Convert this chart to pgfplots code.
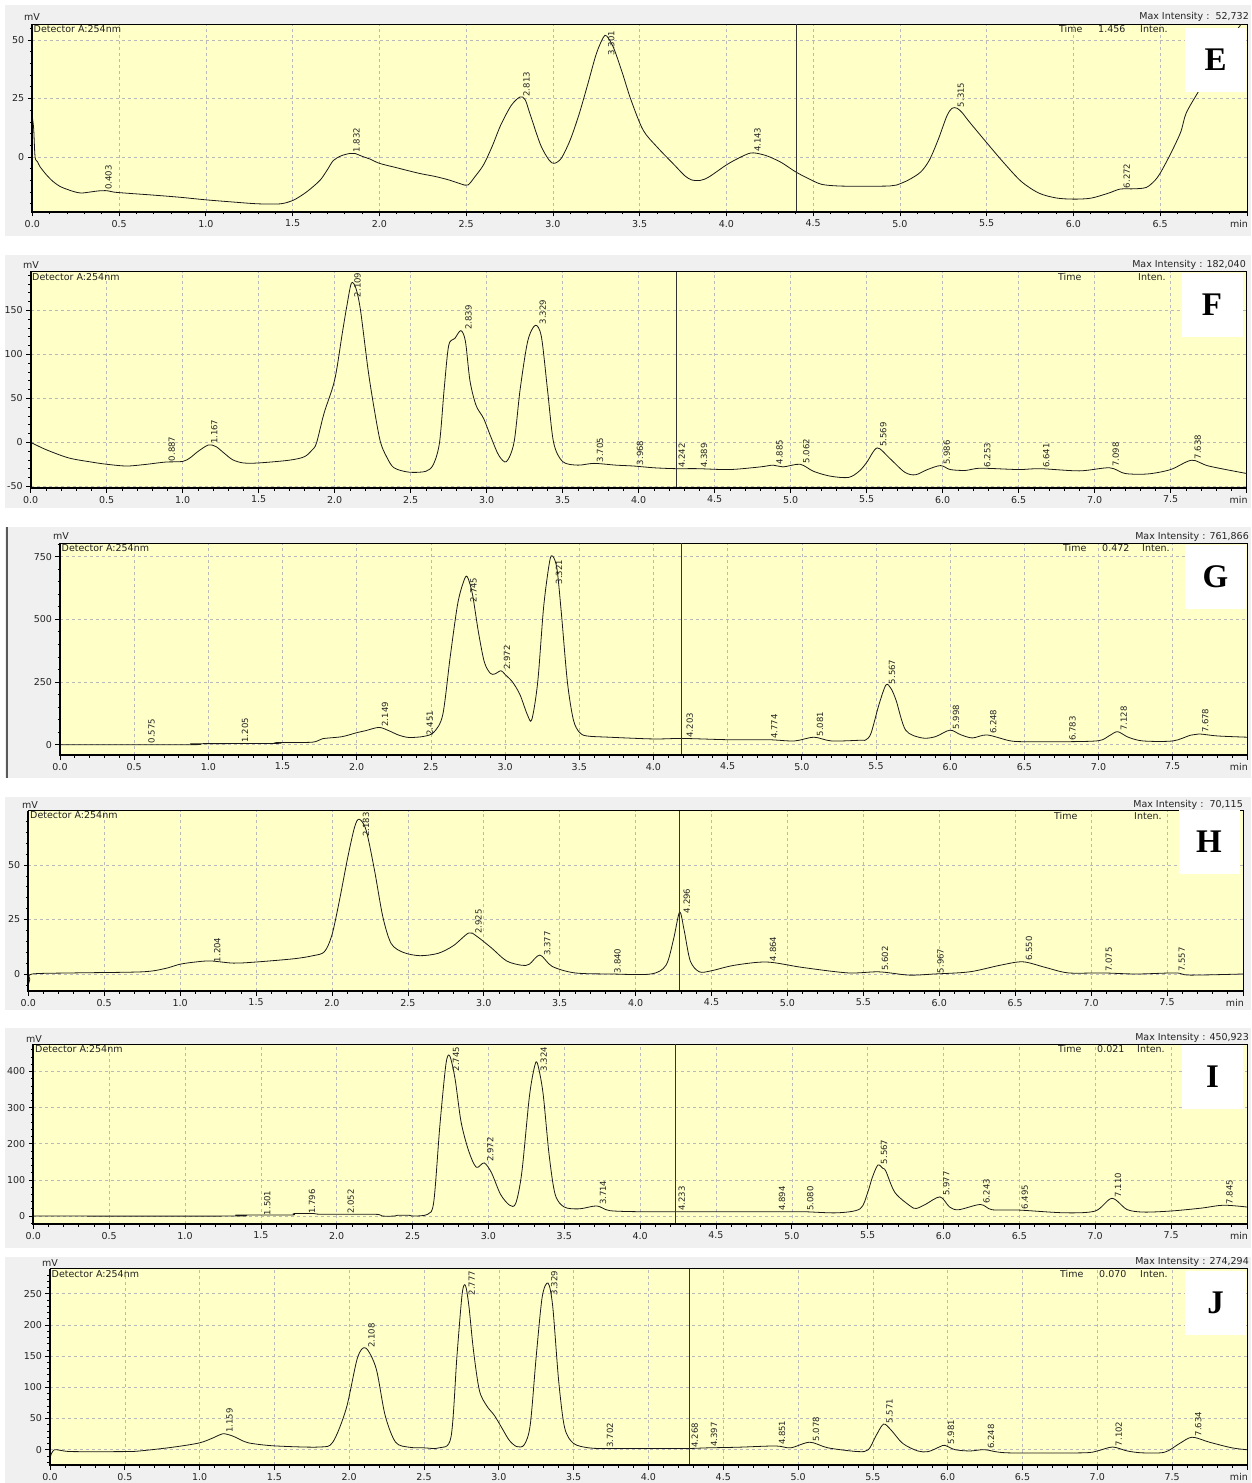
\documentclass[border=0pt]{standalone}
\usepackage{fontspec}
\setmainfont{DejaVu Sans}
\newfontfamily\letterfont{Liberation Serif}
\usepackage{pgfplots}
\pgfplotsset{compat=1.18}

\definecolor{bgg}{RGB}{240,240,240}
\definecolor{plotbg}{RGB}{255,255,200}
\definecolor{gridc}{RGB}{185,185,185}
\definecolor{txt}{RGB}{35,35,35}

\newcommand\tfont{\fontsize{9.5}{11}\selectfont}
\newcommand\pfont{\fontsize{8.5}{10}\selectfont}
\newcommand\minlab{\makebox[0pt][r]{min\kern-1pt}}

\pgfplotsset{
 chrom/.style={
  scale only axis, anchor=north west,
  axis background/.style={fill=plotbg},
  grid=major,
  major grid style={draw=gridc, line width=0.6pt, dash pattern=on 3pt off 3pt},
  tick pos=left, tick align=outside,
  major tick length=4.5pt, minor tick length=2.5pt,
  every tick/.style={black, line width=0.7pt},
  axis line style={black, line width=0.8pt},
  ticklabel style={font=\tfont, text=txt},
  xmin=0,
  minor x tick num=4,
  /pgf/number format/assume math mode=true,
 },
 eight/.style={xmax=8, xtick={0,0.5,...,8},
  xticklabels={0.0,0.5,1.0,1.5,2.0,2.5,3.0,3.5,4.0,4.5,5.0,5.5,6.0,6.5,7.0,7.5,\minlab}},
 cur/.style={line width=0.8pt, black!90, smooth, tension=0.5, mark=none},
 cursor/.style={line width=0.6pt, black!80, mark=none},
}
\tikzset{pk/.style={xshift=2pt, rotate=90, anchor=north west, inner sep=0.8pt, font=\pfont, text=txt}}

\newcommand\T[4]{\node[anchor=#1,font=\tfont,text=txt,inner sep=0pt] at (#2pt,-#3pt) {#4};}
\newcommand\B[3]{\node[fill=white,minimum width=61pt,minimum height=64pt,inner sep=0pt,font=\fontsize{33}{36}\selectfont\letterfont\bfseries] at (#1pt,-#2pt) {#3};}
\newcommand\TA[1]{\draw[black,line width=1.7pt] (#1.north west) -- (#1.south west) -- (#1.south east);}

\begin{document}
\begin{tikzpicture}
\useasboundingbox (0,0) rectangle (1251pt,-1483pt);
\fill[white] (0,0) rectangle (1251pt,-1483pt);
\fill[bgg] (5pt,-5pt) rectangle (1251pt,-236pt);
\fill[bgg] (5pt,-255pt) rectangle (1251pt,-508pt);
\fill[bgg] (5pt,-527pt) rectangle (1251pt,-778pt);
\draw[black!65, line width=1.5pt] (7pt,-527pt) -- (7pt,-778pt);
\fill[bgg] (5pt,-797pt) rectangle (1251pt,-1010pt);
\fill[bgg] (5pt,-1028pt) rectangle (1251pt,-1248pt);
\fill[bgg] (5pt,-1257pt) rectangle (1251pt,-1483pt);

% ---------------- E
\begin{axis}[chrom, name=E, at={(32.3pt,-24pt)}, width=1214.7pt, height=188pt,
  xmax=7, ymin=-23.5, ymax=56.8,
  xtick={0,0.5,...,7}, xticklabels={0.0,0.5,1.0,1.5,2.0,2.5,3.0,3.5,4.0,4.5,5.0,5.5,6.0,6.5,\minlab},
  ytick={0,25,50}, yticklabels={0,25,50}, minor ytick={-20,-15,...,55}]
\addplot[cur] coordinates {(0,17) (0.008,12) (0.016,0) (0.03,-2) (0.044,-4.1) (0.08,-7.5) (0.12,-10.5) (0.16,-12.6) (0.2,-13.8) (0.24,-14.8) (0.28,-15.4) (0.33,-15) (0.38,-14.5) (0.43,-14.4) (0.47,-15) (0.55,-15.5) (0.7,-16.3) (0.85,-17.2) (1.0,-18.3) (1.15,-19.2) (1.3,-20) (1.43,-20) (1.5,-18.6) (1.55,-16.5) (1.6,-13.8) (1.66,-9.8) (1.7,-5.5) (1.735,-1.5) (1.78,0.5) (1.83,1.5) (1.86,1.5) (1.9,0.3) (1.95,-1) (2.0,-2.7) (2.1,-4.6) (2.23,-7) (2.32,-8.3) (2.4,-9.8) (2.47,-11.5) (2.51,-12) (2.55,-8.5) (2.6,-3.4) (2.65,4.5) (2.7,13.7) (2.76,22) (2.81,25.6) (2.84,24.5) (2.87,18) (2.93,5) (2.98,-1.5) (3.01,-2.7) (3.05,-0.4) (3.1,7.3) (3.15,18) (3.2,30.8) (3.25,44) (3.29,51) (3.31,51.7) (3.35,46.6) (3.4,36) (3.45,24.4) (3.52,11.5) (3.6,4.3) (3.7,-3.4) (3.76,-8) (3.8,-9.8) (3.85,-10) (3.9,-8.5) (4.0,-3.4) (4.07,-0.5) (4.14,1.7) (4.2,1.2) (4.25,0) (4.32,-2.5) (4.4,-6.4) (4.48,-9.5) (4.55,-11.7) (4.65,-12.4) (4.8,-12.5) (4.94,-12.4) (4.98,-12) (5.05,-9.8) (5.12,-6.4) (5.17,-1.3) (5.22,7.3) (5.27,17.4) (5.3,20.8) (5.33,20.8) (5.36,18.8) (5.4,15) (5.5,6.1) (5.6,-2.6) (5.7,-10.5) (5.8,-15.4) (5.9,-17.5) (6.0,-18) (6.1,-17.6) (6.2,-15.5) (6.27,-13.7) (6.35,-13.6) (6.42,-13) (6.47,-10) (6.5,-6.9) (6.54,-1.5) (6.58,4.4) (6.62,11) (6.65,18.8) (6.72,27.9) (6.8,38) (6.9,50) (7.0,60)};
\addplot[cursor] coordinates {(4.40,-23.5) (4.40,56.8)};
\node[pk] at (axis cs:0.403,-14.4) {0.403};
\node[pk] at (axis cs:1.832,1.6) {1.832};
\node[pk] at (axis cs:2.813,25.4) {2.813};
\node[pk] at (axis cs:3.301,43) {3.301};
\node[pk] at (axis cs:4.143,1.7) {4.143};
\node[pk] at (axis cs:5.315,20.9) {5.315};
\node[pk] at (axis cs:6.272,-13.7) {6.272};
\end{axis}
\TA{E}

% ---------------- F
\begin{axis}[chrom, eight, name=F, at={(30.7pt,-271.7pt)}, width=1216pt, height=216.3pt,
  ymin=-52, ymax=194,
  ytick={-50,0,50,100,150}, yticklabels={-50,0,50,100,150}, minor ytick={-50,-40,...,190}]
\addplot[cur] coordinates {(0,0) (0.1,-8.3) (0.25,-17.8) (0.4,-22.5) (0.5,-25) (0.63,-27) (0.75,-25.3) (0.887,-22.5) (1.0,-21.8) (1.05,-17.5) (1.1,-10.5) (1.17,-3) (1.22,-5) (1.27,-12) (1.33,-20) (1.4,-23.5) (1.5,-23.5) (1.7,-20.4) (1.8,-16.5) (1.85,-9) (1.88,-1) (1.93,33) (2.0,71) (2.05,124) (2.08,155) (2.11,181) (2.14,175) (2.17,150) (2.22,82) (2.26,38) (2.3,1) (2.34,-16) (2.39,-29) (2.49,-34) (2.6,-33) (2.65,-25) (2.69,0) (2.72,60) (2.75,110) (2.79,118) (2.83,127) (2.86,115) (2.89,70) (2.93,42) (2.98,27) (3.03,5) (3.08,-15) (3.13,-22) (3.18,0) (3.22,60) (3.27,115) (3.32,133) (3.36,120) (3.4,60) (3.44,0) (3.5,-22) (3.6,-26) (3.705,-24) (3.85,-26) (3.968,-27) (4.1,-29) (4.242,-30) (4.389,-30) (4.6,-31) (4.8,-28) (4.885,-26) (4.95,-28) (5.062,-25) (5.15,-33) (5.26,-38.5) (5.38,-40) (5.45,-33) (5.5,-23) (5.569,-6.4) (5.65,-18) (5.75,-34) (5.82,-37) (5.9,-31) (5.986,-26.5) (6.05,-31) (6.15,-32) (6.25,-29.5) (6.5,-31) (6.641,-30) (6.9,-32.5) (7.098,-29) (7.2,-35.5) (7.35,-36) (7.5,-31) (7.638,-20.4) (7.75,-27) (8.0,-35.5)};
\addplot[cursor] coordinates {(4.245,-52) (4.245,194)};
\node[pk] at (axis cs:0.887,-22.5) {0.887};
\node[pk] at (axis cs:1.167,-3) {1.167};
\node[pk] at (axis cs:2.109,164) {2.109};
\node[pk] at (axis cs:2.839,127) {2.839};
\node[pk] at (axis cs:3.329,133) {3.329};
\node[pk] at (axis cs:3.705,-24) {3.705};
\node[pk] at (axis cs:3.968,-27) {3.968};
\node[pk] at (axis cs:4.242,-30) {4.242};
\node[pk] at (axis cs:4.389,-30) {4.389};
\node[pk] at (axis cs:4.885,-26) {4.885};
\node[pk] at (axis cs:5.062,-25) {5.062};
\node[pk] at (axis cs:5.569,-6.4) {5.569};
\node[pk] at (axis cs:5.986,-26.5) {5.986};
\node[pk] at (axis cs:6.253,-29.5) {6.253};
\node[pk] at (axis cs:6.641,-30) {6.641};
\node[pk] at (axis cs:7.098,-29) {7.098};
\node[pk] at (axis cs:7.638,-20.4) {7.638};
\end{axis}
\TA{F}

% ---------------- G
\begin{axis}[chrom, eight, name=G, at={(60pt,-543.3pt)}, width=1187pt, height=211.7pt,
  ymin=-41, ymax=803,
  ytick={0,250,500,750}, yticklabels={0,250,500,750}, minor ytick={0,50,...,800}]
\addplot[cur] coordinates {(0,0) (0.89,0) (0.9,4) (1.45,5) (1.46,9) (1.7,10) (1.77,24) (1.9,32) (2.0,48) (2.06,56) (2.15,69) (2.22,55) (2.28,39) (2.35,29) (2.45,33) (2.52,50) (2.58,120) (2.63,350) (2.68,560) (2.72,650) (2.745,670) (2.78,600) (2.82,450) (2.86,330) (2.9,285) (2.93,282) (2.972,295) (3.0,280) (3.05,250) (3.1,200) (3.15,120) (3.18,100) (3.22,250) (3.26,550) (3.3,730) (3.321,752) (3.35,700) (3.38,520) (3.42,250) (3.46,100) (3.5,50) (3.55,35) (3.7,30) (4.0,23) (4.2,25) (4.5,20) (4.774,20) (4.95,15) (5.081,30) (5.2,15) (5.4,18) (5.43,19) (5.466,45) (5.52,160) (5.567,238) (5.6,225) (5.635,178) (5.7,58) (5.81,27) (5.9,32) (5.998,58) (6.07,40) (6.15,27) (6.248,39) (6.4,16) (6.5,12) (6.783,12) (7.0,16) (7.07,35) (7.128,52) (7.2,30) (7.3,15) (7.5,15) (7.62,38) (7.678,43) (7.8,35) (8.0,30)};
\addplot[cursor] coordinates {(4.19,-41) (4.19,803)};
\node[pk] at (axis cs:0.575,2) {0.575};
\node[pk] at (axis cs:1.205,5) {1.205};
\node[pk] at (axis cs:2.149,69) {2.149};
\node[pk] at (axis cs:2.451,33) {2.451};
\node[pk] at (axis cs:2.745,565) {2.745};
\node[pk] at (axis cs:2.972,295) {2.972};
\node[pk] at (axis cs:3.321,636) {3.321};
\node[pk] at (axis cs:4.203,25) {4.203};
\node[pk] at (axis cs:4.774,20) {4.774};
\node[pk] at (axis cs:5.081,30) {5.081};
\node[pk] at (axis cs:5.567,238) {5.567};
\node[pk] at (axis cs:5.998,58) {5.998};
\node[pk] at (axis cs:6.248,39) {6.248};
\node[pk] at (axis cs:6.783,12) {6.783};
\node[pk] at (axis cs:7.128,52) {7.128};
\node[pk] at (axis cs:7.678,43) {7.678};
\end{axis}
\TA{G}

% ---------------- H
\begin{axis}[chrom, eight, name=H, at={(28.3pt,-810.7pt)}, width=1214.7pt, height=180.3pt,
  ymin=-7.8, ymax=74.9,
  ytick={0,25,50}, yticklabels={0,25,50}, minor ytick={-5,0,...,70}]
\addplot[cur] coordinates {(0,-5) (0.01,-2.5) (0.025,0) (0.3,0.5) (0.75,1) (0.9,2.5) (1.0,4.5) (1.1,5.5) (1.2,6) (1.35,5) (1.5,5.5) (1.75,7) (1.875,8.4) (1.95,10.2) (2.0,17.9) (2.05,34) (2.105,53.8) (2.15,67.6) (2.18,71) (2.225,66) (2.28,47.7) (2.335,26.3) (2.39,14) (2.47,9.9) (2.58,8.4) (2.7,9.5) (2.8,13) (2.9,18.8) (2.95,17.5) (3.05,12) (3.15,6) (3.25,4) (3.3,4.5) (3.37,8.7) (3.45,3.5) (3.6,0.5) (3.84,0) (4.1,0) (4.2,4) (4.25,16) (4.29,28.4) (4.32,20) (4.36,6) (4.42,1) (4.5,1.5) (4.65,4) (4.864,5.5) (5.1,3) (5.4,0.5) (5.602,1) (5.8,-0.5) (5.967,0) (6.2,1) (6.4,4) (6.55,5.6) (6.7,3) (6.85,0.5) (7.075,0.5) (7.3,0) (7.557,0.5) (7.65,-0.5) (8.0,0)};
\addplot[cursor] coordinates {(4.29,-7.8) (4.29,74.9)};
\node[pk] at (axis cs:1.204,5) {1.204};
\node[pk] at (axis cs:2.183,62.5) {2.183};
\node[pk] at (axis cs:2.925,18) {2.925};
\node[pk] at (axis cs:3.377,8) {3.377};
\node[pk] at (axis cs:3.840,0) {3.840};
\node[pk] at (axis cs:4.296,27.5) {4.296};
\node[pk] at (axis cs:4.864,5.5) {4.864};
\node[pk] at (axis cs:5.602,1) {5.602};
\node[pk] at (axis cs:5.967,0) {5.967};
\node[pk] at (axis cs:6.550,5.6) {6.550};
\node[pk] at (axis cs:7.075,0.5) {7.075};
\node[pk] at (axis cs:7.557,0.5) {7.557};
\end{axis}
\TA{H}

% ---------------- I
\begin{axis}[chrom, eight, name=I, at={(33.3pt,-1044.3pt)}, width=1213.7pt, height=179.7pt,
  ymin=-22, ymax=475,
  ytick={0,100,200,300,400}, yticklabels={0,100,200,300,400}, minor ytick={-20,0,...,460}]
\addplot[cur] coordinates {(0,0) (1.33,0) (1.34,3) (1.7,3) (1.72,7) (1.85,7) (1.9,5) (2.25,5) (2.3,0) (2.38,0) (2.4,2) (2.48,2) (2.5,0) (2.6,5) (2.64,40) (2.68,250) (2.72,420) (2.745,443) (2.78,380) (2.82,260) (2.87,180) (2.92,135) (2.972,147) (3.02,120) (3.08,60) (3.14,30) (3.18,35) (3.22,120) (3.27,330) (3.305,415) (3.324,421) (3.36,340) (3.4,170) (3.44,60) (3.5,25) (3.6,20) (3.714,28) (3.8,15) (4.0,12) (4.233,12) (4.5,12) (4.894,12) (5.08,12) (5.3,9) (5.45,20) (5.5,65) (5.53,106) (5.567,141) (5.6,132) (5.62,124) (5.68,65) (5.78,28) (5.82,21) (5.88,32) (5.977,53) (6.04,25) (6.1,17.5) (6.243,32) (6.32,17.5) (6.495,16.6) (6.8,9) (7.0,14) (7.11,49) (7.21,18) (7.32,11) (7.5,14) (7.7,22) (7.845,30) (8.0,25)};
\addplot[cursor] coordinates {(4.23,-22) (4.23,475)};
\node[pk] at (axis cs:1.501,0) {1.501};
\node[pk] at (axis cs:1.796,4) {1.796};
\node[pk] at (axis cs:2.052,4) {2.052};
\node[pk] at (axis cs:2.745,398) {2.745};
\node[pk] at (axis cs:2.972,147) {2.972};
\node[pk] at (axis cs:3.324,398) {3.324};
\node[pk] at (axis cs:3.714,28) {3.714};
\node[pk] at (axis cs:4.233,12) {4.233};
\node[pk] at (axis cs:4.894,12) {4.894};
\node[pk] at (axis cs:5.080,12) {5.080};
\node[pk] at (axis cs:5.567,141) {5.567};
\node[pk] at (axis cs:5.977,53) {5.977};
\node[pk] at (axis cs:6.243,32) {6.243};
\node[pk] at (axis cs:6.495,16) {6.495};
\node[pk] at (axis cs:7.110,49) {7.110};
\node[pk] at (axis cs:7.845,30) {7.845};
\end{axis}
\TA{I}

% ---------------- J
\begin{axis}[chrom, eight, name=J, at={(50pt,-1268.7pt)}, width=1197pt, height=196.6pt,
  ymin=-25, ymax=290,
  ytick={0,50,100,150,200,250}, yticklabels={0,50,100,150,200,250}, minor ytick={-20,-10,...,280}]
\addplot[cur] coordinates {(0,-14) (0.01,-6) (0.03,0) (0.07,-1) (0.15,-3) (0.5,-3) (0.6,-2) (0.82,4) (1.0,11) (1.1,20) (1.156,25.6) (1.22,22) (1.3,13) (1.36,9.6) (1.51,6) (1.8,4.3) (1.89,12) (1.98,66) (2.055,147) (2.11,163) (2.18,130) (2.24,55) (2.31,12) (2.4,4) (2.5,3) (2.6,3) (2.68,20) (2.72,150) (2.755,250) (2.777,263) (2.8,230) (2.83,160) (2.87,95) (2.92,70) (2.97,55) (3.02,35) (3.07,15) (3.12,5) (3.17,8) (3.21,40) (3.25,150) (3.29,245) (3.329,267) (3.36,230) (3.4,110) (3.44,35) (3.5,10) (3.6,3) (3.702,2) (4.0,2) (4.268,2) (4.397,3) (4.6,4) (4.851,6) (4.95,3) (5.078,12) (5.2,3) (5.4,-3) (5.47,0) (5.52,22) (5.571,41) (5.62,32) (5.7,10) (5.8,-2) (5.87,-3) (5.95,5) (5.981,7) (6.05,0) (6.15,-2) (6.248,0) (6.4,-5) (6.9,-5) (7.0,-2) (7.102,4.3) (7.2,-2) (7.3,-5) (7.45,-4) (7.55,10) (7.634,20) (7.75,12) (7.9,3) (8.0,0)};
\addplot[cursor] coordinates {(4.27,-25) (4.27,290)};
\node[pk] at (axis cs:1.159,25.6) {1.159};
\node[pk] at (axis cs:2.108,162) {2.108};
\node[pk] at (axis cs:2.777,246) {2.777};
\node[pk] at (axis cs:3.329,246) {3.329};
\node[pk] at (axis cs:3.702,2) {3.702};
\node[pk] at (axis cs:4.268,2) {4.268};
\node[pk] at (axis cs:4.397,3) {4.397};
\node[pk] at (axis cs:4.851,6) {4.851};
\node[pk] at (axis cs:5.078,12) {5.078};
\node[pk] at (axis cs:5.571,41) {5.571};
\node[pk] at (axis cs:5.981,7) {5.981};
\node[pk] at (axis cs:6.248,0) {6.248};
\node[pk] at (axis cs:7.102,4.3) {7.102};
\node[pk] at (axis cs:7.634,20) {7.634};
\end{axis}
\TA{J}

% ---------- texts
\T{west}{24}{17}{mV}
\T{east}{1249}{17}{Max Intensity :\ \ 52,732}
\T{west}{33.5}{29.3}{Detector A:254nm}
\T{west}{1059}{29}{Time}\T{west}{1098}{29}{1.456}\T{west}{1140}{29}{Inten.}
\B{1215.5}{60}{E}

\T{west}{23}{265}{mV}
\T{east}{1246}{265}{Max Intensity : 182,040}
\T{west}{32}{276.7}{Detector A:254nm}
\T{west}{1058}{277}{Time}\T{west}{1138}{277}{Inten.}
\B{1212}{305}{F}

\T{west}{53}{535.7}{mV}
\T{east}{1249}{536.7}{Max Intensity : 761,866}
\T{west}{61.5}{548}{Detector A:254nm}
\T{west}{1063}{548}{Time}\T{west}{1102}{548}{0.472}\T{west}{1142}{548}{Inten.}
\B{1215.5}{577}{G}

\T{west}{22}{805}{mV}
\T{east}{1243}{805}{Max Intensity :\ \ 70,115}
\T{west}{30}{815}{Detector A:254nm}
\T{west}{1054}{816}{Time}\T{west}{1134}{816}{Inten.}
\B{1209}{842}{H}

\T{west}{26}{1039}{mV}
\T{east}{1249}{1038.3}{Max Intensity : 450,923}
\T{west}{35}{1049}{Detector A:254nm}
\T{west}{1058}{1049}{Time}\T{west}{1097}{1049}{0.021}\T{west}{1137}{1049}{Inten.}
\B{1212.5}{1077}{I}

\T{west}{42}{1262.7}{mV}
\T{east}{1249}{1262}{Max Intensity : 274,294}
\T{west}{51.5}{1273.7}{Detector A:254nm}
\T{west}{1060}{1274}{Time}\T{west}{1099}{1274}{0.070}\T{west}{1140}{1274}{Inten.}
\B{1215.5}{1302.5}{J}
\end{tikzpicture}
\end{document}
